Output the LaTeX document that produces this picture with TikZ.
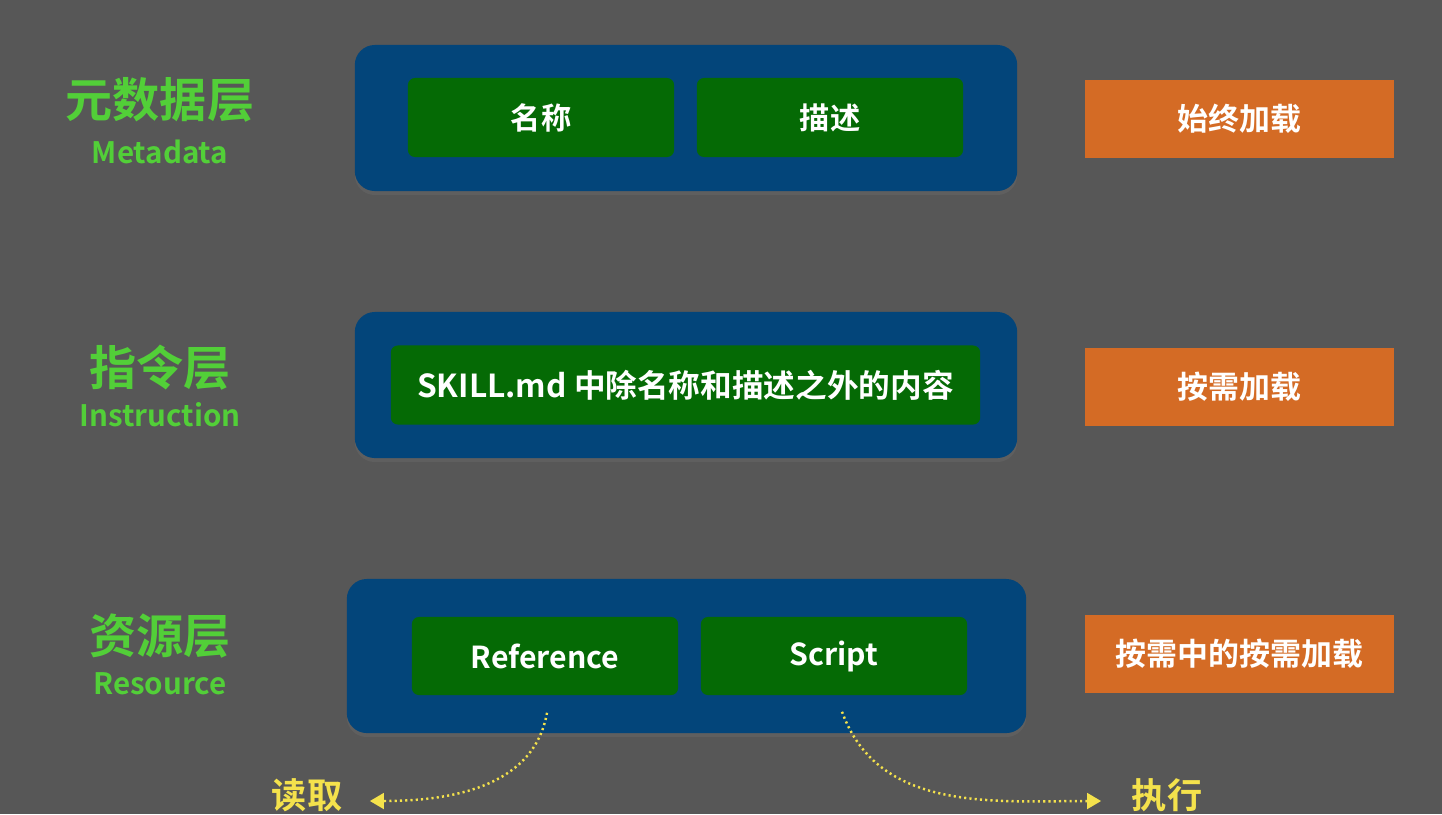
\documentclass[tikz,border=0pt]{standalone}
\usepackage{fontspec}
\setmainfont{Noto Sans CJK SC}
\newfontfamily\cjkbold{Noto Sans CJK SC Bold}
\usepackage{xcolor}
\usepackage{tikz}
\usetikzlibrary{shapes,arrows.meta,positioning,shadows}

\definecolor{bgGray}{HTML}{575757}
\definecolor{layerBlue}{HTML}{03457A}
\definecolor{itemGreen}{HTML}{056A05}
\definecolor{loadOrange}{HTML}{D46B25}
\definecolor{titleGreen}{HTML}{52CF38}
\definecolor{noteYellow}{HTML}{F4E24C}

\begin{document}
\begin{tikzpicture}[x=0.01cm,y=-0.01cm,
    layer/.style={fill=layerBlue, rounded corners=0.2cm, minimum width=6.62cm, minimum height=1.46cm,
      drop shadow={shadow xshift=0pt, shadow yshift=-0.04cm, opacity=0.2}},
    item/.style={fill=itemGreen, rounded corners=0.07cm, minimum width=2.66cm, minimum height=0.79cm,
      text=white, font=\cjkbold\fontsize{8.6}{10}\selectfont},
    loadbox/.style={fill=loadOrange, minimum width=3.09cm, minimum height=0.78cm,
      text=white, font=\cjkbold\fontsize{8.8}{10}\selectfont},
    title/.style={text=titleGreen, font=\cjkbold\fontsize{13.4}{14}\selectfont},
    subtitle/.style={text=titleGreen, font=\cjkbold\fontsize{8.4}{10}\selectfont},
    note/.style={text=noteYellow, font=\cjkbold\fontsize{10}{12}\selectfont, inner sep=0pt},
    flow/.style={noteYellow, line width=0.7pt, dash pattern=on 0.6pt off 0.9pt, -{Triangle[width=4.5pt,length=4pt]}}]
        % Background
        \clip (0,0) rectangle (1442,814);
        \fill[bgGray] (0,0) rectangle (1442,814);

        % Layer titles
        \node[title] (t1) at (160,100) {元数据层};
        \node[subtitle] (s1) at (160,152) {Metadata};
        \node[title] (t2) at (160,368) {指令层};
        \node[subtitle] (s2) at (160,415) {Instruction};
        \node[title] (t3) at (160,636) {资源层};
        \node[subtitle] (s3) at (160,684) {Resource};

        % Metadata layer
        \node[layer] (meta) at (686,118) {};
        \node[item] (name) at (541,117.5) {名称};
        \node[item] (desc) at (830,117.5) {描述};
        \node[loadbox] (always) at (1239.5,119) {始终加载};

        % Instruction layer
        \node[layer] (inst) at (686,385) {};
        \node[item, minimum width=5.89cm, font=\cjkbold\fontsize{9}{10}\selectfont] (body) at (685.5,385) {SKILL.md 中除名称和描述之外的内容};
        \node[loadbox] (ondemand) at (1239.5,387) {按需加载};

        % Resource layer
        \node[layer, minimum width=6.79cm, minimum height=1.54cm] (res) at (686.5,656) {};
        \node[item, minimum height=0.78cm] (ref) at (545,656) {Reference};
        \node[item, minimum height=0.78cm] (script) at (834,656) {Script};
        \node[loadbox] (nested) at (1239.5,654) {按需中的按需加载};

        % Read / execute
        \node[note] (read) at (307,795) {读取};
        \node[note] (exec) at (1167,795) {执行};
        \draw[flow] ([xshift=0.02cm,yshift=-0.17cm]ref.south) to[out=-100,in=0] ([xshift=0.27cm,yshift=-0.06cm]read.east);
        \draw[flow] ([xshift=0.08cm,yshift=-0.16cm]script.south) to[out=-70,in=180] ([xshift=-0.3cm,yshift=-0.06cm]exec.west);
      \end{tikzpicture}
\end{document}
